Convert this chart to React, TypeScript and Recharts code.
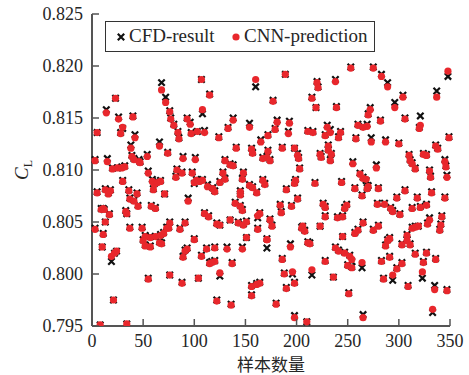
import { Legend, Scatter, ScatterChart, XAxis, YAxis } from "recharts";

// sample number (x) for each pair of points
const sampleNo = [
  5, 14, 23, 26, 40, 28, 30, 42, 38, 68, 72, 76, 77, 80, 84, 85, 66, 93, 96, 97,
  103, 108, 110, 107, 115, 160, 189, 177, 220, 221, 215, 219, 138, 133, 124, 154, 181, 193, 179, 172,
  165, 192, 211, 216, 230, 228, 233, 141, 156, 186, 198, 231, 253, 275, 238, 283, 289, 348, 337, 304,
  296, 239, 272, 270, 282, 306, 321, 320, 260, 265, 269, 243, 241, 258, 273, 287, 300, 336, 349, 74,
  39, 41, 46, 47, 54, 15, 3, 20, 25, 29, 32, 55, 59, 61, 64, 67, 60, 71, 89, 101,
  83, 82, 88, 98, 102, 105, 108, 100, 113, 30, 5, 13, 18, 16, 36, 37, 41, 44, 45, 58,
  62, 94, 110, 114, 9, 11, 12, 17, 33, 34, 13, 3, 11, 37, 49, 76, 75, 73, 86, 91,
  52, 57, 62, 67, 70, 100, 157, 172, 201, 202, 223, 224, 231, 233, 167, 171, 174, 130, 135, 138,
  203, 128, 130, 125, 148, 147, 118, 120, 145, 145, 154, 157, 161, 167, 169, 199, 198, 190, 218, 201,
  195, 184, 185, 140, 145, 147, 164, 226, 228, 228, 122, 125, 135, 143, 148, 151, 162, 174, 176, 205,
  206, 208, 223, 162, 151, 171, 234, 255, 278, 310, 311, 313, 324, 327, 338, 345, 346, 316, 330, 331,
  347, 262, 265, 268, 270, 269, 280, 244, 257, 264, 306, 298, 318, 332, 345, 279, 286, 292, 294, 301,
  313, 321, 327, 249, 247, 240, 245, 330, 328, 342, 341, 340, 265, 260, 257, 275, 280, 313, 316, 319,
  308, 245, 291, 10, 19, 22, 24, 21, 8, 34, 55, 76, 88, 104, 50, 52, 57, 66, 68, 91,
  93, 89, 107, 112, 115, 120, 132, 120, 117, 137, 147, 171, 194, 211, 213, 186, 125, 156, 161, 164,
  156, 188, 196, 198, 190, 215, 228, 122, 136, 180, 198, 210, 238, 241, 247, 252, 254, 250, 254, 264,
  236, 251, 289, 287, 308, 303, 311, 283, 291, 298, 303, 316, 327, 324, 323, 336, 285, 294, 309, 335,
  347, 265, 333,
];

const cfdResult = [
  0.8136, 0.8158, 0.8169, 0.8151, 0.8152, 0.8136, 0.814, 0.8134, 0.8124, 0.8184, 0.817, 0.8157, 0.815, 0.8144, 0.8137, 0.8131, 0.8127, 0.815, 0.8146, 0.8136,
  0.8137, 0.8154, 0.8138, 0.8187, 0.8173, 0.818, 0.8192, 0.8167, 0.8185, 0.818, 0.817, 0.816, 0.815, 0.8141, 0.8132, 0.8145, 0.8148, 0.8147, 0.814, 0.8134,
  0.8129, 0.8137, 0.8138, 0.8137, 0.8143, 0.8134, 0.8139, 0.8122, 0.8121, 0.8122, 0.8121, 0.8124, 0.8199, 0.8199, 0.8187, 0.8192, 0.8184, 0.819, 0.8176, 0.8172,
  0.8165, 0.8161, 0.816, 0.8154, 0.8148, 0.815, 0.8152, 0.8141, 0.8144, 0.8142, 0.8144, 0.8137, 0.8132, 0.8131, 0.8131, 0.8129, 0.8126, 0.8124, 0.8132, 0.8117,
  0.8114, 0.8111, 0.811, 0.8108, 0.8115, 0.8111, 0.811, 0.8102, 0.8102, 0.8103, 0.8104, 0.8099, 0.8091, 0.8087, 0.8089, 0.809, 0.8082, 0.8077, 0.8113, 0.8112,
  0.8101, 0.8094, 0.8098, 0.8098, 0.8091, 0.809, 0.8091, 0.8087, 0.8086, 0.809, 0.8079, 0.8082, 0.8081, 0.8078, 0.8081, 0.8073, 0.8071, 0.8078, 0.8066, 0.8066,
  0.8064, 0.8073, 0.8059, 0.8056, 0.8063, 0.8063, 0.8062, 0.8058, 0.8061, 0.8058, 0.805, 0.8044, 0.8039, 0.8045, 0.8045, 0.805, 0.8045, 0.8045, 0.8044, 0.805,
  0.8037, 0.8036, 0.8036, 0.8038, 0.804, 0.8034, 0.8117, 0.8119, 0.8116, 0.8112, 0.8116, 0.8113, 0.812, 0.811, 0.8112, 0.8113, 0.811, 0.811, 0.8106, 0.8105,
  0.8102, 0.8098, 0.8092, 0.8089, 0.8098, 0.8092, 0.8083, 0.808, 0.808, 0.8077, 0.8086, 0.8084, 0.8079, 0.8091, 0.8087, 0.8091, 0.8088, 0.8082, 0.8088, 0.8073,
  0.8066, 0.8067, 0.806, 0.8069, 0.8066, 0.8062, 0.8059, 0.8068, 0.8065, 0.8056, 0.8049, 0.8047, 0.8052, 0.805, 0.8048, 0.8051, 0.8054, 0.8053, 0.8047, 0.8045,
  0.8046, 0.8042, 0.8046, 0.8044, 0.8035, 0.8034, 0.8116, 0.8108, 0.8105, 0.8115, 0.811, 0.8107, 0.8116, 0.8115, 0.8121, 0.811, 0.8104, 0.8102, 0.81, 0.8094,
  0.8095, 0.8097, 0.8093, 0.809, 0.8085, 0.8083, 0.8083, 0.8089, 0.8083, 0.8076, 0.8081, 0.8074, 0.8074, 0.8079, 0.8074, 0.8068, 0.8068, 0.8064, 0.8061, 0.8058,
  0.8064, 0.8065, 0.8067, 0.8067, 0.8064, 0.8055, 0.8056, 0.8054, 0.8049, 0.8056, 0.8048, 0.8043, 0.805, 0.8043, 0.804, 0.8043, 0.8047, 0.8045, 0.8046, 0.8046,
  0.8038, 0.8036, 0.8035, 0.8026, 0.8012, 0.802, 0.8022, 0.7975, 0.7951, 0.7952, 0.7996, 0.7999, 0.7992, 0.7996, 0.8033, 0.8028, 0.8027, 0.8031, 0.803, 0.8023,
  0.8025, 0.8017, 0.8018, 0.8025, 0.8011, 0.8026, 0.8026, 0.8013, 0.8012, 0.8011, 0.8026, 0.8025, 0.8029, 0.8031, 0.803, 0.8015, 0.7998, 0.7989, 0.7991, 0.7992,
  0.798, 0.8001, 0.8, 0.7992, 0.7987, 0.7999, 0.8013, 0.7975, 0.7971, 0.7972, 0.796, 0.7954, 0.8026, 0.8023, 0.8021, 0.8018, 0.8012, 0.8009, 0.8007, 0.8006,
  0.7997, 0.7982, 0.8033, 0.8028, 0.8033, 0.8029, 0.8029, 0.8013, 0.8017, 0.8006, 0.8011, 0.802, 0.8021, 0.8012, 0.7996, 0.8015, 0.7996, 0.7994, 0.7989, 0.7989,
  0.7985, 0.7961, 0.7963,
];

const cnnPrediction = [
  0.8136, 0.8155, 0.8169, 0.8149, 0.8151, 0.8135, 0.8141, 0.8131, 0.8121, 0.8177, 0.8165, 0.8156, 0.8149, 0.8143, 0.8136, 0.813, 0.8123, 0.8149, 0.8144, 0.8135,
  0.8137, 0.8158, 0.8136, 0.8187, 0.8172, 0.8187, 0.8192, 0.8166, 0.8184, 0.8179, 0.8169, 0.816, 0.8148, 0.814, 0.8131, 0.8141, 0.8146, 0.8145, 0.8139, 0.8133,
  0.8127, 0.8135, 0.8137, 0.8136, 0.8141, 0.8133, 0.8136, 0.8121, 0.812, 0.8121, 0.8121, 0.8123, 0.8198, 0.8198, 0.8185, 0.819, 0.818, 0.8195, 0.817, 0.817,
  0.816, 0.816, 0.8158, 0.8153, 0.8147, 0.8149, 0.8143, 0.814, 0.8143, 0.8141, 0.8142, 0.8136, 0.8131, 0.813, 0.8127, 0.8127, 0.8125, 0.8123, 0.8131, 0.8116,
  0.8113, 0.811, 0.8108, 0.8107, 0.8113, 0.8108, 0.8109, 0.8101, 0.8102, 0.8102, 0.8103, 0.8097, 0.8089, 0.8086, 0.8088, 0.8089, 0.8081, 0.8077, 0.8111, 0.811,
  0.81, 0.8093, 0.8097, 0.8097, 0.809, 0.8089, 0.809, 0.8088, 0.8084, 0.8089, 0.8078, 0.8081, 0.808, 0.8077, 0.808, 0.8072, 0.807, 0.8077, 0.8065, 0.8065,
  0.8063, 0.807, 0.8058, 0.8055, 0.8062, 0.8063, 0.8062, 0.8057, 0.806, 0.8058, 0.805, 0.8043, 0.8038, 0.8044, 0.8044, 0.8049, 0.8044, 0.8044, 0.8043, 0.8049,
  0.8036, 0.8035, 0.8036, 0.8037, 0.8039, 0.8033, 0.8116, 0.8118, 0.8114, 0.8111, 0.8115, 0.8112, 0.8119, 0.8109, 0.8111, 0.8112, 0.8109, 0.8109, 0.8105, 0.8104,
  0.8101, 0.8097, 0.8091, 0.8088, 0.8097, 0.8091, 0.8082, 0.8079, 0.8079, 0.8076, 0.8085, 0.8083, 0.8078, 0.809, 0.8086, 0.809, 0.8087, 0.8081, 0.8087, 0.8072,
  0.8065, 0.8066, 0.8059, 0.8068, 0.8065, 0.8061, 0.8058, 0.8067, 0.8064, 0.8055, 0.8048, 0.8047, 0.8052, 0.8049, 0.8047, 0.805, 0.8056, 0.8052, 0.8046, 0.8044,
  0.8046, 0.8041, 0.8046, 0.8043, 0.8035, 0.8033, 0.8115, 0.8106, 0.8102, 0.8114, 0.8109, 0.8106, 0.8115, 0.8114, 0.812, 0.8108, 0.8103, 0.8101, 0.8099, 0.8093,
  0.8093, 0.8096, 0.8092, 0.8091, 0.8084, 0.8082, 0.8082, 0.8088, 0.8082, 0.8075, 0.808, 0.8073, 0.8073, 0.8078, 0.8073, 0.8067, 0.8067, 0.8063, 0.806, 0.8057,
  0.8063, 0.8064, 0.8066, 0.8066, 0.8063, 0.8054, 0.8055, 0.8052, 0.8048, 0.8055, 0.8047, 0.8042, 0.8049, 0.8042, 0.8039, 0.8042, 0.8046, 0.8044, 0.8045, 0.8046,
  0.8037, 0.8036, 0.8034, 0.8026, 0.8017, 0.802, 0.8022, 0.7975, 0.7951, 0.7952, 0.7995, 0.7999, 0.7991, 0.7996, 0.8032, 0.8027, 0.8026, 0.803, 0.8029, 0.8022,
  0.8024, 0.8016, 0.8017, 0.8024, 0.801, 0.8025, 0.8024, 0.8012, 0.8011, 0.801, 0.8024, 0.8033, 0.8026, 0.803, 0.8029, 0.8014, 0.8001, 0.7988, 0.799, 0.7991,
  0.7979, 0.8, 0.8002, 0.7991, 0.7986, 0.8004, 0.8012, 0.7974, 0.797, 0.7971, 0.7958, 0.7954, 0.8025, 0.8022, 0.802, 0.8017, 0.8014, 0.8008, 0.8006, 0.8011,
  0.7997, 0.7981, 0.8032, 0.8027, 0.8032, 0.8028, 0.8028, 0.8012, 0.8016, 0.8005, 0.801, 0.8019, 0.802, 0.8011, 0.8002, 0.8014, 0.7995, 0.7999, 0.7988, 0.7985,
  0.7984, 0.7958, 0.7966,
];

const xTicks = [0, 50, 100, 150, 200, 250, 300, 350];
const yTicks = [0.795, 0.8, 0.805, 0.81, 0.815, 0.82, 0.825];

const cfdData = sampleNo.map((n, i) => ({ x: n, y: cfdResult[i] }));
const cnnData = sampleNo.map((n, i) => ({ x: n, y: cnnPrediction[i] }));

const SERIF = '"Liberation Serif", "Times New Roman", serif';
const AXIS = "#555";
const TEXT = "#262626";
const RED = "#e8272c";
const PLOT_LEFT = 92;
const PLOT_BOTTOM = 326;

const Cross = (p: any) => {
  const s = 3.2;
  const { cx, cy } = p;
  return (
    <path
      d={`M${cx - s},${cy - s}L${cx + s},${cy + s}M${cx - s},${cy + s}L${cx + s},${cy - s}`}
      stroke="#111"
      strokeWidth={2.2}
    />
  );
};

const Dot = (p: any) => <circle cx={p.cx} cy={p.cy} r={3.6} fill={RED} />;

// ticks point inwards, like the original figure
const YTick = ({ y, payload }: any) => (
  <g>
    <line x1={PLOT_LEFT} x2={PLOT_LEFT + 7} y1={y} y2={y} stroke={AXIS} strokeWidth={1.5} />
    <text x={PLOT_LEFT - 9} y={y} dy="0.35em" textAnchor="end" fontFamily={SERIF} fontSize={18} fill={TEXT}>
      {payload.value.toFixed(3)}
    </text>
  </g>
);

const XTick = ({ x, payload }: any) => (
  <g>
    <line x1={x} x2={x} y1={PLOT_BOTTOM} y2={PLOT_BOTTOM - 7} stroke={AXIS} strokeWidth={1.5} />
    <text x={x} y={PLOT_BOTTOM + 21} textAnchor="middle" fontFamily={SERIF} fontSize={18} fill={TEXT}>
      {payload.value}
    </text>
  </g>
);

const XTitle = ({ viewBox }: any) => (
  <text
    x={viewBox.x + viewBox.width / 2}
    y={viewBox.y + 45}
    textAnchor="middle"
    fontFamily='"Noto Sans CJK SC", sans-serif'
    fontSize={17}
    fill={TEXT}
  >
    样本数量
  </text>
);

const YTitle = () => (
  <text x={28} y={170} transform="rotate(-90 28 170)" textAnchor="middle" fontFamily={SERIF} fill={TEXT}>
    <tspan fontSize={19} fontStyle="italic">C</tspan>
    <tspan fontSize={12} dy={4}>L</tspan>
  </text>
);

const LegendBox = () => (
  <div
    style={{
      position: "relative",
      width: 270,
      height: 31,
      boxSizing: "border-box",
      border: "1.5px solid #333",
      background: "#fff",
      fontFamily: SERIF,
      fontSize: 19,
      color: TEXT,
    }}
  >
    <svg width={270} height={31} style={{ position: "absolute", left: 0, top: 0 }}>
      <path d="M11.8,11.8L18.2,18.2M11.8,18.2L18.2,11.8" stroke="#111" strokeWidth={2.2} />
      <circle cx={130} cy={15} r={3.6} fill={RED} />
    </svg>
    <span style={{ position: "absolute", left: 23, top: 3, lineHeight: "22px" }}>CFD-result</span>
    <span style={{ position: "absolute", left: 138, top: 3, lineHeight: "22px" }}>CNN-prediction</span>
  </div>
);

export default function App() {
  return (
    <div style={{ position: "absolute", left: 0, top: 0, width: 469, height: 375, background: "#fff" }}>
      <ScatterChart width={469} height={375} margin={{ top: 14, right: 19, bottom: 19, left: 22 }}>
        <XAxis
          type="number"
          dataKey="x"
          domain={[0, 350]}
          ticks={xTicks}
          height={30}
          tickLine={false}
          axisLine={{ stroke: AXIS, strokeWidth: 2 }}
          tick={<XTick />}
          label={<XTitle />}
        />
        <YAxis
          type="number"
          dataKey="y"
          domain={[0.795, 0.825]}
          ticks={yTicks}
          width={70}
          tickLine={false}
          axisLine={{ stroke: AXIS, strokeWidth: 2 }}
          tick={<YTick />}
          label={<YTitle />}
          allowDataOverflow
        />
        <Legend
          layout="horizontal"
          align="center"
          verticalAlign="middle"
          content={<LegendBox />}
          wrapperStyle={{ position: "absolute", left: 105, top: 21, width: 270 }}
        />
        <Scatter name="CFD-result" data={cfdData} shape={<Cross />} isAnimationActive={false} />
        <Scatter name="CNN-prediction" data={cnnData} shape={<Dot />} isAnimationActive={false} />
      </ScatterChart>
    </div>
  );
}
